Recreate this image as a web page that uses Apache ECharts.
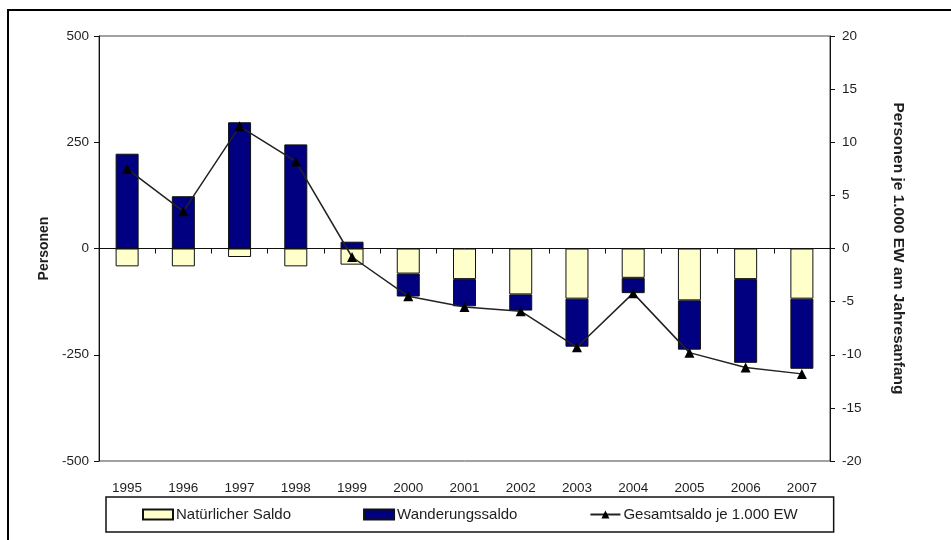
<!DOCTYPE html>
<html>
<head>
<meta charset="utf-8">
<script src="https://cdn.jsdelivr.net/npm/echarts@6/dist/echarts.min.js"></script>
<style>
  html, body { margin: 0; padding: 0; background: #fff; }
  #chart { width: 951px; height: 540px; }
</style>
</head>
<body>
<div id="chart"></div>
<script>
// Jahre
var years = ['1995', '1996', '1997', '1998', '1999', '2000', '2001', '2002', '2003', '2004', '2005', '2006', '2007'];
// Natürlicher Saldo (Personen)
var natuerlich = [-42, -42, -20, -42, -38, -59, -72, -108, -118, -69, -122, -72, -118];
// Wanderungssaldo (Personen)
var wanderung = [223, 123, 297, 245, 16, -54, -64, -38, -113, -36, -116, -197, -165];
// Gesamtsaldo je 1.000 Einwohner
var gesamt = [7.5, 3.5, 11.5, 8.2, -0.8, -4.5, -5.5, -5.9, -9.3, -4.2, -9.8, -11.2, -11.8];

var FONT = 'Liberation Sans, Arial, sans-serif';
var TXT = '#1e1e1e';

var chart = echarts.init(document.getElementById('chart'), null, { renderer: 'canvas' });

chart.setOption({
  animation: false,
  backgroundColor: '#fff',
  textStyle: { fontFamily: FONT, color: TXT },
  grid: {
    left: 99, right: 121, top: 36, bottom: 79,
    show: true, borderColor: '#444', borderWidth: 1, backgroundColor: 'transparent'
  },
  legend: {
    left: 106, top: 497,
    padding: [10, 36, 10, 36],
    itemGap: 72, itemWidth: 30, itemHeight: 10,
    borderColor: '#111', borderWidth: 1.5,
    textStyle: { fontFamily: FONT, fontSize: 15, color: TXT, padding: [0, 0, 0, -2] },
    data: [
      { name: 'Natürlicher Saldo', icon: 'rect' },
      { name: 'Wanderungssaldo', icon: 'rect' },
      { name: 'Gesamtsaldo je 1.000 EW' }
    ]
  },
  xAxis: [
    {
      type: 'category', data: years, position: 'bottom',
      axisLine: { show: false, onZero: false },
      axisTick: { show: false },
      axisLabel: { margin: 20, fontSize: 13.5, color: TXT, fontFamily: FONT }
    },
    {
      // Nulllinie mit Teilstrichen zwischen den Jahren
      type: 'category', data: years, position: 'bottom',
      axisLine: { show: true, onZero: true, onZeroAxisIndex: 0, lineStyle: { color: '#111', width: 1 } },
      axisTick: { show: true, length: 5, lineStyle: { color: '#111' } },
      axisLabel: { show: false }
    }
  ],
  yAxis: [
    {
      type: 'value', min: -500, max: 500, interval: 250, position: 'left',
      name: 'Personen', nameLocation: 'middle', nameGap: 48,
      nameTextStyle: { fontFamily: FONT, fontSize: 14, fontWeight: 'bold', color: TXT },
      axisLine: { show: true, lineStyle: { color: '#111' } },
      axisTick: { show: true, length: 5, lineStyle: { color: '#111' } },
      axisLabel: { margin: 10, fontSize: 13.5, color: TXT, fontFamily: FONT },
      splitLine: { show: false }
    },
    {
      type: 'value', min: -20, max: 20, interval: 5, position: 'right',
      name: 'Personen je 1.000 EW am Jahresanfang', nameLocation: 'middle', nameGap: 60, nameRotate: -90,
      nameTextStyle: { fontFamily: FONT, fontSize: 15.5, fontWeight: 'bold', color: TXT },
      axisLine: { show: true, lineStyle: { color: '#111' } },
      axisTick: { show: true, length: 5, lineStyle: { color: '#111' } },
      axisLabel: { margin: 12, fontSize: 13.5, color: TXT, fontFamily: FONT },
      splitLine: { show: false }
    }
  ],
  series: [
    {
      name: 'Natürlicher Saldo', type: 'bar', stack: 'saldo', barWidth: 23,
      xAxisIndex: 0, yAxisIndex: 0, data: natuerlich,
      itemStyle: { color: '#FFFFCC', borderColor: '#111', borderWidth: 1 }
    },
    {
      name: 'Wanderungssaldo', type: 'bar', stack: 'saldo', barWidth: 23,
      xAxisIndex: 0, yAxisIndex: 0, data: wanderung,
      itemStyle: { color: '#000080', borderColor: '#111', borderWidth: 1 }
    },
    {
      name: 'Gesamtsaldo je 1.000 EW', type: 'line',
      xAxisIndex: 0, yAxisIndex: 1, data: gesamt,
      symbol: 'triangle', symbolSize: 10,
      lineStyle: { color: '#222', width: 1.5 },
      itemStyle: { color: '#000' },
      z: 5
    }
  ],
  graphic: [
    {
      type: 'polyline', silent: true,
      shape: { points: [[8, 540], [8, 10], [951, 10]] },
      style: { stroke: '#000', lineWidth: 2, fill: null }
    }
  ]
});
</script>
</body>
</html>
